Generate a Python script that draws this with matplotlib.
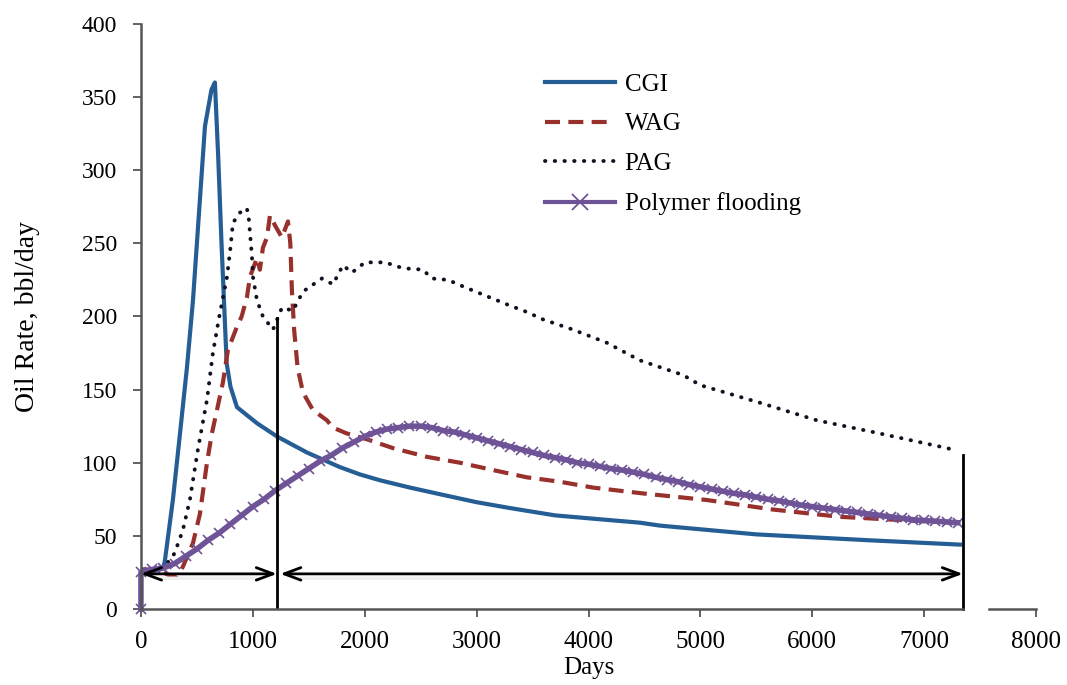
import matplotlib.pyplot as plt
from matplotlib.lines import Line2D

plt.rcParams['font.family'] = ['Liberation Serif', 'DejaVu Serif']

# CGI
cgi_days = [0, 100, 200, 214, 286, 349, 411, 465, 572, 630, 661, 690, 720, 766,
            800, 858, 1037, 1215, 1483, 1778, 1957, 2136, 2404, 2700, 3000, 3298,
            3700, 4000, 4459, 4638, 5500, 6500, 7319]
cgi_rate = [27, 26, 28, 33, 75, 120, 165, 211, 330, 355, 360, 310, 250, 168,
            152, 138, 127, 118, 107, 97, 92, 88, 83, 78, 73, 69,
            64, 62, 59, 57, 51, 47, 44]

# WAG
wag_days = [0, 100, 200, 280, 322, 349, 375, 465, 527, 590, 634, 733, 777, 858, 900,
            947, 974, 1037, 1063, 1090, 1126, 1153, 1200, 1260, 1314, 1335, 1349,
            1370, 1400, 1448, 1537, 1662, 1716, 1840, 2020, 2252, 2556, 2851, 3146,
            3450, 3744, 4039, 4486, 5058, 5648, 6247, 6988, 7320]
wag_rate = [27, 27, 25, 22, 22, 25, 29, 45, 65, 100, 120, 155, 177, 193, 200,
            213, 227, 240, 232, 247, 254, 269, 262, 254, 265, 250, 218,
            190, 165, 148, 136, 129, 124, 120, 116, 110, 104, 100, 95,
            90, 87, 83, 79, 74.5, 68, 63, 60, 59]

# PAG
pag_days = [0, 100, 200, 232, 300, 375, 438, 509, 590, 643, 700, 769, 800, 822, 885,
            947, 965, 992, 1001, 1037, 1090, 1180, 1260, 1358, 1448, 1617, 1716,
            1805, 1886, 2002, 2181, 2341, 2520, 2600, 2744, 2895, 3119, 3280, 3450,
            3593, 3861, 4164, 4459, 4844, 5000, 5532, 6041, 6542, 7203, 7300]
pag_rate = [27, 27, 29, 31, 38, 54, 75, 109, 143, 175, 200, 227, 247, 264, 271,
            274, 266, 241, 227, 211, 200, 191, 206, 204, 217, 226, 222,
            235, 230, 237, 237, 233, 232, 226, 225, 220, 213, 208, 203,
            198, 191, 182, 170, 160, 153, 141, 129, 121, 110, 108]

# Polymer flooding
poly_days = [0] + list(range(0, 7400, 100))
poly_rate = [0, 25, 27, 28, 31, 36, 41, 47, 52, 58, 64, 70, 75, 81, 86, 91, 96, 101,
             105, 110, 114, 118, 121, 123, 124, 125, 125, 124, 122, 121, 119, 117,
             115, 113, 111, 109, 107, 105, 103.5, 102, 100, 99, 97.5, 96, 95, 93.5,
             92, 90, 88.5, 87, 85, 83.5, 82, 80.5, 79, 78, 76.5, 75, 74, 72.5, 71,
             70, 69, 68, 67, 66, 65, 64, 63, 62, 61, 60.5, 60, 59.5, 59]

# stage markers
split_day = 1215
split_top = 199
end_day = 7346
end_top = 105
arrow_level = 24

c_cgi = '#255E95'
c_wag = '#98302C'
c_pag = '#111122'
c_poly = '#6E5397'
c_axis = '#555555'

fig = plt.figure(figsize=(10.67, 6.85), dpi=100)
ax = fig.add_axes([0.1321, 0.111, 0.8389, 0.854])

ax.plot(cgi_days, cgi_rate, color=c_cgi, lw=3, label='CGI', solid_joinstyle='round')
ax.plot(wag_days, wag_rate, color=c_wag, lw=3, linestyle=(0, (3.6, 2.0)), label='WAG')
ax.plot(pag_days, pag_rate, color=c_pag, lw=2.8, linestyle=(0, (0.1, 2.4)),
        dash_capstyle='round', label='PAG')
ax.plot(poly_days, poly_rate, color=c_poly, lw=4, marker='x', markersize=7,
        markeredgewidth=1.2, label='Polymer flooding', clip_on=False)

# vertical separators
ax.plot([split_day, split_day], [0, split_top], color='black', lw=2)
ax.plot([end_day, end_day], [0, end_top], color='black', lw=2, clip_on=False)

# double arrows (with a faint shadow)
for x0, x1 in [(0, split_day), (split_day + 30, end_day)]:
    ax.annotate('', xy=(x1, arrow_level - 3), xytext=(x0, arrow_level - 3),
                arrowprops=dict(arrowstyle='-', color='#eeeeee', lw=2.5,
                                shrinkA=14, shrinkB=14))
    ax.annotate('', xy=(x1, arrow_level), xytext=(x0, arrow_level),
                arrowprops=dict(arrowstyle='<->,head_length=1.2,head_width=0.45',
                                color='black', lw=2, shrinkA=0, shrinkB=0))

ax.set_xlim(0, 8000)
ax.set_ylim(0, 400)
ax.set_xticks(range(0, 8001, 1000))
ax.set_yticks(range(0, 401, 50))

for s in ['top', 'right']:
    ax.spines[s].set_visible(False)
ax.spines['left'].set_color(c_axis)
ax.spines['bottom'].set_color(c_axis)
ax.spines['left'].set_linewidth(1.8)
ax.spines['bottom'].set_linewidth(1.8)
ax.spines['bottom'].set_bounds(0, end_day)
ax.plot([7580, 8000], [0, 0], color=c_axis, lw=1.8, clip_on=False, zorder=0)

ax.tick_params(axis='both', direction='out', length=6, width=1.3, color=c_axis)
ax.tick_params(axis='x', labelsize=18, pad=10)
ax.tick_params(axis='y', labelsize=17, pad=11)

ax.set_xlabel('Days', fontsize=18, labelpad=3)
ax.set_ylabel('Oil Rate, bbl/day', fontsize=20, labelpad=30)

handles = [
    Line2D([], [], color=c_cgi, lw=3),
    Line2D([], [], color=c_wag, lw=3, linestyle=(0, (3.6, 2.0))),
    Line2D([], [], color=c_pag, lw=2.8, linestyle=(0, (0.1, 2.4)), dash_capstyle='round'),
    Line2D([], [], color=c_poly, lw=3, marker='x', markersize=11, markeredgewidth=1.3),
]
ax.legend(handles, ['CGI', 'WAG', 'PAG', 'Polymer flooding'], loc='upper left',
          bbox_to_anchor=(0.451, 0.916), frameon=False, fontsize=18,
          handlelength=2.8, handletextpad=0.4, labelspacing=0.69,
          borderpad=0, borderaxespad=0)

fig.savefig('out.png', dpi=100)
